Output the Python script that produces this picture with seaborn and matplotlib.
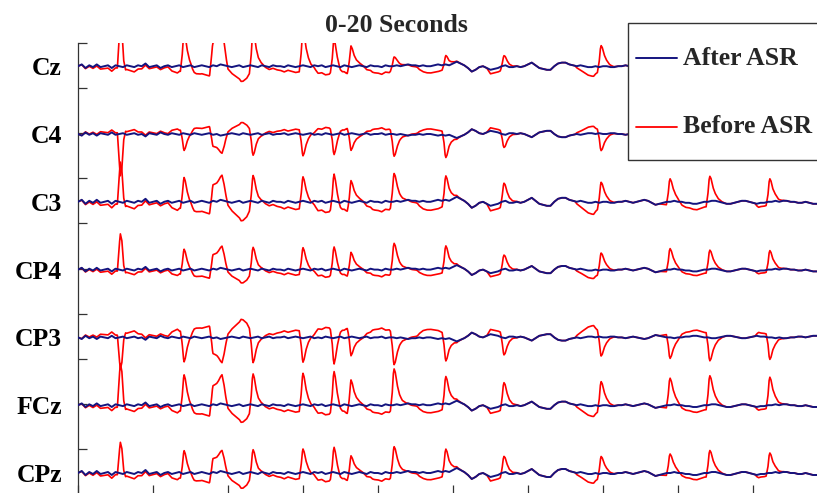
import numpy as np
import matplotlib
matplotlib.use("Agg")
import matplotlib.pyplot as plt
import seaborn as sns
from matplotlib.lines import Line2D
from matplotlib.legend_handler import HandlerLine2D

# ---------------- data ----------------
channels = ["Cz", "C4", "C3", "CP4", "CP3", "FCz", "CPz"]
title_text = "0-20 Seconds"
legend_labels = ["After ASR", "Before ASR"]
x_ticks = [0, 2, 4, 6, 8, 10, 12, 14, 16, 18, 20]

# After-ASR background activity (uV, sampled every 0.1 s from 0 to 20 s)
after_asr = [
    0, 2, -2, 1, -1, 2, -1, 0, 1, -2, 1,
    0, -1, 1, 0, -1, 1, 0, 3, -1, 0,
    1, -2, 0, 1, -1, 0, 1, -1, 0, 1,
    -1, 0, 1, 0, -1, 1, 0, 2, 1, 0,
    -1, 0, 1, -1, 0, 1, 0, -1, 1, 0,
    -1, 1, 0, 0, -1, 1, 0, -1, 0, 1,
    0, -1, 1, 0, 1, -1, 0, 1, 0, -1,
    1, 0, -1, 0, 1, 0, -1, 1, 0, 0,
    -1, 1, 0, 0, 1, 0, 1, 2, 1, 1,
    0, 1, 0, 0, 1, 2, 1, 2, 1, 3,
    5, 3, 1, -2, -6, -4, -1, 0, -2, -4,
    -3, -2, 0, 1, -1, -1, 0, -1, 0, 2,
    4, 1, -2, -3, -4, -4, 0, 3, 4, 4,
    2, 1, 0, 1, 0, -1, -1, 0, -1, 0,
    0, -1, -1, 0, 0, 1, 0, -1, 0, 1,
    2, 1, -1, -3, -2, -1, 0, 0, 1, 0,
    0, -1, -1, -2, -2, -1, 0, 0, 1, 1,
    0, -1, -2, -2, -1, 0, 1, 1, 0, -1,
    -2, -1, -1, 0, 0, 1, 0, 1, 1, 0,
    0, -1, -1, 0, -1, -2, -2, -2, -2, -2,
]
after_gain = [0.9, -0.8, 1.0, 0.9, -0.8, 0.9, 1.0]

# eye-blink artifacts (present before ASR)
blink_time = [1.13, 2.83, 3.84, 4.67, 6.00, 6.83, 7.28, 8.43, 9.81, 11.36,
              13.95, 15.79, 16.85, 18.45]
blink_kind = ["sharp", "blink", "plateau", "blink", "blink", "blink", "blink",
              "blink", "blink", "blink", "blink", "blink", "blink", "blink"]

amp_cz = [45, 35, 35, 35, 35, 26, 21, 9, 9, 10, 21, 20, 20, 20]
amp_c4 = [-42, -17, -18, -21, -21, -20, -17, -22, -22, -13, -17, -18, -18, -18]
amp_c3 = [40, 25, 25, 26, 24, 27, 22, 28, 24, 18, 20, 23, 25, 23]
amp_cp4 = [36, 21, 22, 22, 21, 22, 18, 26, 22, 14, 17, 21, 19, 19]
amp_cp3 = [-32, -25, -24, -25, -24, -26, -19, -27, -22, -17, -19, -21, -23, -22]
amp_fcz = [42, 31, 29, 31, 31, 33, 26, 36, 27, 22, 24, 27, 29, 28]
amp_cpz = [31, 23, 21, 23, 23, 25, 18, 26, 22, 16, 17, 19, 22, 20]
blink_amps = [amp_cz, amp_c4, amp_c3, amp_cp4, amp_cp3, amp_fcz, amp_cpz]

# blink waveforms (time from peak in s, relative height)
blink_dt = [-0.10, -0.05, -0.02, 0.00, 0.03, 0.08, 0.14, 0.22, 0.32, 0.42]
blink_v = [0, 0.45, 0.92, 1.0, 0.9, 0.55, 0.3, 0.12, 0.03, 0]
sharp_dt = [-0.08, -0.03, 0.00, 0.04, 0.09, 0.14]
sharp_v = [0, 0.7, 1.0, 0.85, 0.2, 0]
plateau_dt = [-0.33, -0.26, -0.20, -0.10, 0.00, 0.05, 0.10, 0.16]
plateau_v = [0, 0.62, 0.68, 0.8, 1.0, 0.7, 0.3, 0]

# slow drift between blinks (as seen on C3, uV)
drift_t = [0.0, 0.5, 0.9, 1.04, 1.13, 1.25, 1.5, 1.8, 2.4, 2.65, 2.76, 2.83,
           2.95, 3.1, 3.5, 3.56, 3.6, 3.92, 4.08, 4.35, 4.5, 4.6, 4.67, 4.85,
           5.1, 5.5, 5.9, 5.96, 6.0, 6.25, 6.4, 6.7, 6.78, 6.83, 6.95, 7.0,
           7.2, 7.25, 7.28, 7.6, 7.85, 8.1, 8.3, 8.38, 8.43, 8.7, 9.05, 9.2,
           9.6, 9.75, 9.81, 10.2, 10.9, 11.0, 11.28, 11.36, 11.6, 13.25, 13.4,
           13.6, 13.75, 13.88, 13.95, 14.3, 15.5, 15.7, 15.79, 16.0, 16.1,
           16.5, 16.75, 16.85, 17.2, 18.05, 18.15, 18.4, 18.45, 18.8, 20.0]
drift_v = [0, -2, -4, -3, 0, -5, -6, -2, -2, -9, -6, 0,
           -5, -10, -11, -8, 0, 0, -7, -19, -15, -8, 0, -2,
           -3, -6, -7, -4, 0, -3, -9, -10, -6, 0, -8, -11,
           -10, -6, 0, 0, -8, -9, -8, -4, 0, 0, -2, -8,
           -9, -5, 0, 0, 0, -5, -5, 0, 0, 0, -6,
           -10, -12, -6, 0, 0, 0, -3, 0, 0, -4,
           -6, -5, 0, 0, 0, -4, -3, 0, 0, 0]
drift_gain = [0.8, -0.6, 1.0, 0.7, -0.95, 0.9, 0.8]

# ---------------- drawing ----------------
NAVY = "#14147f"
RED = "#ff0000"
FONT = dict(family="Liberation Serif", weight="bold", size=18.5)

sns.set_style("ticks")
plt.rcParams["font.family"] = ["Liberation Serif", "DejaVu Serif"]

W, H = 817, 493
fig = plt.figure(figsize=(W / 100, H / 100), dpi=100)
fig.patch.set_facecolor("white")
ax = fig.add_axes([78 / W, (H - 494) / H, 750 / W, 451 / H])

t_after = np.linspace(0, 20, len(after_asr))
t_fine = np.linspace(0, 20, 4001)
shapes = {"blink": (blink_dt, blink_v), "sharp": (sharp_dt, sharp_v),
          "plateau": (plateau_dt, plateau_v)}

base, spacing = 21.0, 67.8
n = len(channels)
offsets = [base + spacing * (n - 1 - i) for i in range(n)]

for i, ch in enumerate(channels):
    off = offsets[i]
    nav = np.asarray(after_asr, float) * after_gain[i]
    nav_f = np.interp(t_fine, t_after, nav)
    art = drift_gain[i] * np.interp(t_fine, drift_t, drift_v)
    for tk, kind, a in zip(blink_time, blink_kind, blink_amps[i]):
        dt, v = shapes[kind]
        art = art + a * np.interp(t_fine - tk, dt, v, left=0, right=0)
    sns.lineplot(x=t_fine, y=off + nav_f + art, color=RED, lw=1.2, ax=ax,
                 estimator=None, sort=False, zorder=2)
    sns.lineplot(x=t_after, y=off + nav, color=NAVY, lw=1.4, ax=ax,
                 estimator=None, sort=False, zorder=3)

ax.set_xlim(0, 20)
ax.set_ylim(0, 451)
ax.set_xticks(x_ticks)
ax.set_xticklabels([])
ax.set_yticks(np.linspace(0, 451, 11))
ax.set_yticklabels([])
ax.set_yticks(offsets, labels=channels, minor=True)
ax.tick_params(axis="both", which="major", direction="in", length=6.2,
               width=0.9, color="#333333")
ax.tick_params(axis="y", which="minor", length=0, pad=11.5)
for lab in ax.get_yticklabels(minor=True):
    lab.set_fontproperties(FONT)
    lab.set_color("black")
ax.spines["top"].set_visible(False)
ax.spines["right"].set_visible(False)
for s in ("left", "bottom"):
    ax.spines[s].set_color("#333333")
    ax.spines[s].set_linewidth(0.9)
ax.set_xlabel("")
ax.set_ylabel("")

fig.text(396 / W, 1 - 32 / H, title_text, ha="center", va="baseline",
         fontdict=FONT)


class CenteredLine(HandlerLine2D):
    """Legend line drawn level with the middle of the label text."""
    def create_artists(self, legend, orig_handle, xdescent, ydescent, width,
                       height, fontsize, trans):
        arts = super().create_artists(legend, orig_handle, xdescent, ydescent,
                                      width, height, fontsize, trans)
        for a in arts:
            a.set_ydata(np.asarray(a.get_ydata(), float) - 7.6)
        return arts


handles = [Line2D([], [], color=NAVY, lw=1.4), Line2D([], [], color=RED, lw=1.3)]
leg = ax.legend(handles, legend_labels, loc="upper left",
                bbox_to_anchor=(628 / W, 1 - 23 / H),
                bbox_transform=fig.transFigure, prop=FONT, frameon=True,
                fancybox=False, framealpha=1, edgecolor="#333333",
                handlelength=1.6, handletextpad=0.23, borderpad=0.31,
                handleheight=2.77, labelspacing=0.62, borderaxespad=0,
                handler_map={Line2D: CenteredLine()})
leg.get_frame().set_linewidth(1.0)
leg.set_zorder(10)

fig.savefig("out.png", dpi=100, facecolor="white")
